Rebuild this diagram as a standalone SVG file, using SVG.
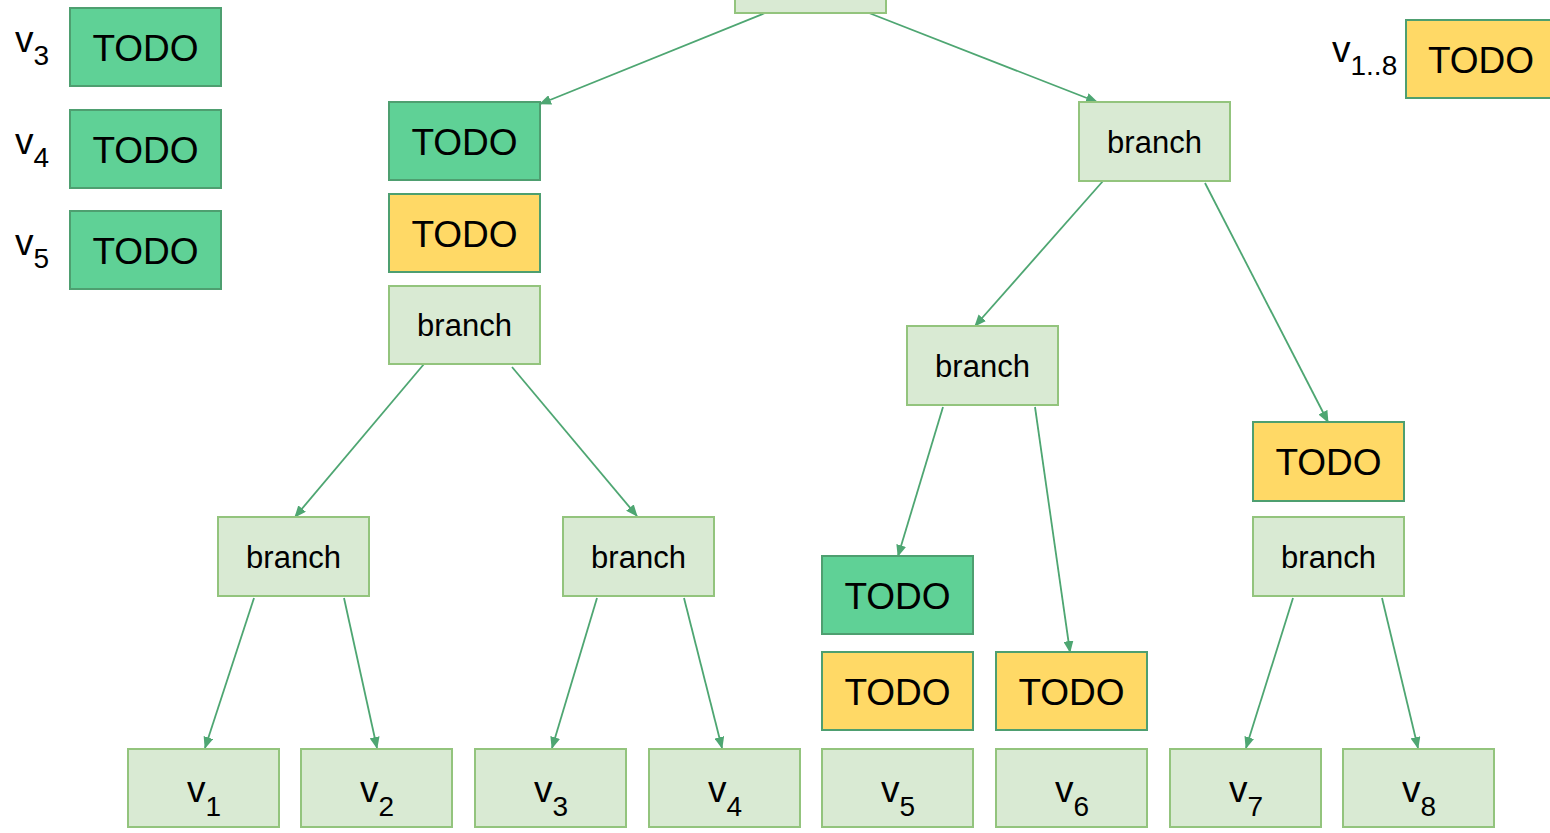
<svg xmlns="http://www.w3.org/2000/svg" width="1550" height="833" viewBox="0 0 1550 833">
<style>
.lg{fill:#d9ead3;stroke:#93c47d;stroke-width:2}
.gr{fill:#5fd196;stroke:#4e9f70;stroke-width:2}
.yl{fill:#ffd966;stroke:#4e9f70;stroke-width:2}
text{font-family:"Liberation Sans",Arial,sans-serif;fill:#000}
.t{font-size:37px;text-anchor:middle}
.b{font-size:31px;text-anchor:middle}
.v{font-size:37px}
.s{font-size:28px}
.c line{stroke:#4ea672;stroke-width:1.8;fill:none;marker-end:url(#ah)}
</style>
<defs>
<marker id="ah" markerUnits="userSpaceOnUse" markerWidth="12" markerHeight="10" viewBox="0 0 12 10" refX="11" refY="5" orient="auto">
<path d="M0,0 L12,5 L0,10 Z" fill="#4ea672"/>
</marker>
</defs>
<rect width="1550" height="833" fill="#fff"/>
<g class="c">
<line x1="765" y1="13" x2="540" y2="104"/>
<line x1="869" y1="13" x2="1097" y2="102"/>
<line x1="424" y1="364" x2="295" y2="517"/>
<line x1="512" y1="367" x2="637" y2="516"/>
<line x1="254" y1="598" x2="205" y2="748"/>
<line x1="344" y1="598" x2="377" y2="748"/>
<line x1="597" y1="598" x2="552" y2="748"/>
<line x1="684" y1="598" x2="722" y2="748"/>
<line x1="1103" y1="181" x2="975" y2="326"/>
<line x1="1205" y1="183" x2="1328" y2="422"/>
<line x1="943" y1="407" x2="898" y2="556"/>
<line x1="1035" y1="407" x2="1070" y2="652"/>
<line x1="1293" y1="598" x2="1246" y2="748"/>
<line x1="1382" y1="598" x2="1418" y2="748"/>
</g>
<g id="legend-v3"><text class="v" x="15" y="52">v<tspan class="s" dy="13">3</tspan></text></g>
<g id="legend-v4"><text class="v" x="15" y="154">v<tspan class="s" dy="13">4</tspan></text></g>
<g id="legend-v5"><text class="v" x="15" y="255">v<tspan class="s" dy="13">5</tspan></text></g>
<g id="legend-todo3"><rect class="gr" x="70" y="8" width="151" height="78"/><text class="t" x="145.5" y="61">TODO</text></g>
<g id="legend-todo4"><rect class="gr" x="70" y="110" width="151" height="78"/><text class="t" x="145.5" y="163">TODO</text></g>
<g id="legend-todo5"><rect class="gr" x="70" y="211" width="151" height="78"/><text class="t" x="145.5" y="264">TODO</text></g>
<g id="legend-v18"><text class="v" x="1332" y="62">v<tspan class="s" dy="13">1..8</tspan></text></g>
<g id="legend-todo18"><rect class="yl" x="1406" y="20" width="151" height="78"/><text class="t" x="1481" y="73">TODO</text></g>
<g id="root"><rect class="lg" x="735" y="-66" width="151" height="79"/></g>
<g id="l-todo-g"><rect class="gr" x="389" y="102" width="151" height="78"/><text class="t" x="464.5" y="155">TODO</text></g>
<g id="l-todo-y"><rect class="yl" x="389" y="194" width="151" height="78"/><text class="t" x="464.5" y="247">TODO</text></g>
<g id="l-branch"><rect class="lg" x="389" y="286" width="151" height="78"/><text class="b" x="464.5" y="336">branch</text></g>
<g id="ll-branch"><rect class="lg" x="218" y="517" width="151" height="79"/><text class="b" x="293.5" y="568">branch</text></g>
<g id="lr-branch"><rect class="lg" x="563" y="517" width="151" height="79"/><text class="b" x="638.5" y="568">branch</text></g>
<g id="r-branch"><rect class="lg" x="1079" y="102" width="151" height="79"/><text class="b" x="1154.5" y="153">branch</text></g>
<g id="rl-branch"><rect class="lg" x="907" y="326" width="151" height="79"/><text class="b" x="982.5" y="377">branch</text></g>
<g id="rr-todo-y"><rect class="yl" x="1253" y="422" width="151" height="79"/><text class="t" x="1328.5" y="475">TODO</text></g>
<g id="rr-branch"><rect class="lg" x="1253" y="517" width="151" height="79"/><text class="b" x="1328.5" y="568">branch</text></g>
<g id="rl-todo-g"><rect class="gr" x="822" y="556" width="151" height="78"/><text class="t" x="897.5" y="609">TODO</text></g>
<g id="rl-todo-y1"><rect class="yl" x="822" y="652" width="151" height="78"/><text class="t" x="897.5" y="705">TODO</text></g>
<g id="rl-todo-y2"><rect class="yl" x="996" y="652" width="151" height="78"/><text class="t" x="1071.5" y="705">TODO</text></g>
<g id="leaf1"><rect class="lg" x="128" y="749" width="151" height="78"/><text class="v" x="187" y="802">v<tspan class="s" dy="14">1</tspan></text></g>
<g id="leaf2"><rect class="lg" x="301" y="749" width="151" height="78"/><text class="v" x="360" y="802">v<tspan class="s" dy="14">2</tspan></text></g>
<g id="leaf3"><rect class="lg" x="475" y="749" width="151" height="78"/><text class="v" x="534" y="802">v<tspan class="s" dy="14">3</tspan></text></g>
<g id="leaf4"><rect class="lg" x="649" y="749" width="151" height="78"/><text class="v" x="708" y="802">v<tspan class="s" dy="14">4</tspan></text></g>
<g id="leaf5"><rect class="lg" x="822" y="749" width="151" height="78"/><text class="v" x="881" y="802">v<tspan class="s" dy="14">5</tspan></text></g>
<g id="leaf6"><rect class="lg" x="996" y="749" width="151" height="78"/><text class="v" x="1055" y="802">v<tspan class="s" dy="14">6</tspan></text></g>
<g id="leaf7"><rect class="lg" x="1170" y="749" width="151" height="78"/><text class="v" x="1229" y="802">v<tspan class="s" dy="14">7</tspan></text></g>
<g id="leaf8"><rect class="lg" x="1343" y="749" width="151" height="78"/><text class="v" x="1402" y="802">v<tspan class="s" dy="14">8</tspan></text></g>
</svg>
